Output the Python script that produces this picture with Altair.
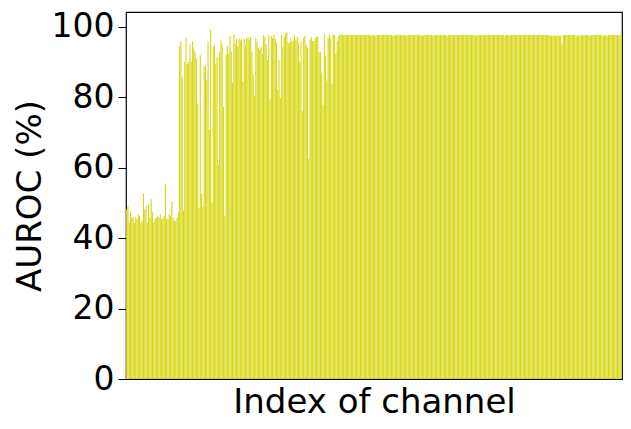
import altair as alt
import pandas as pd

# AUROC (%) per channel (384 channels)
low_segment = [
    48.1, 49.0, 44.5, 47.6, 45.9, 45.9, 44.3, 45.9, 45.3, 46.8,
    46.2, 44.3, 45.0, 52.7, 48.1, 49.0, 44.3, 49.5, 45.8, 51.0,
    47.4, 44.5, 45.5, 46.0, 46.2, 45.8, 46.8, 45.4, 45.4, 46.2,
    55.2, 45.6, 45.3, 46.8, 46.2, 50.4, 45.8, 44.8, 44.8, 45.7,
    47.4,
]
rise_segment_a = [
    94.7, 95.9, 85.6, 47.8, 90.1, 96.9, 89.4, 90.1, 95.0, 90.1,
    95.9, 93.8, 92.7, 91.0, 78.1, 48.4, 91.9, 52.5, 48.9, 88.7,
    89.1, 84.9, 95.9, 70.8, 99.2, 50.1, 94.3, 94.9, 89.6, 91.5,
    60.8, 92.8, 96.2, 95.0, 77.2, 46.2, 92.1, 94.5, 92.4, 97.4,
    93.0, 84.2, 97.9,
]
rise_segment_b = [
    95.2, 96.6, 94.3, 96.6, 96.2, 96.6, 84.4, 96.6, 94.9, 96.8,
    97.0, 96.4, 97.1, 92.8, 86.4, 80.3, 96.6, 95.7, 94.0, 93.4,
    94.3, 92.4, 97.7, 97.2, 95.1, 90.6, 97.7, 79.4, 97.4, 96.8,
    97.7, 96.6, 95.5, 82.2, 90.6, 79.8, 97.7, 94.3, 97.2,
]
rise_segment_c = [
    98.2, 98.5, 95.5, 95.5, 96.9, 95.9, 96.2, 97.5, 96.2, 97.1,
    95.5, 90.1, 96.0, 76.0, 96.9, 97.4, 94.9, 94.0, 62.6, 96.4,
    97.1, 96.0, 96.0, 96.8, 97.0, 97.2, 92.7, 93.0, 87.0, 77.8,
    97.9, 91.7, 84.7, 96.9, 97.9, 96.6, 83.7, 97.9, 97.7, 92.4,
    95.9, 97.4, 97.8, 97.8,
]
plateau_segment = [
    97.7, 97.7, 97.7, 97.7, 97.7, 97.7, 97.7, 97.7, 97.7, 97.7,
    97.7, 97.7, 97.7, 97.7, 97.7, 97.7, 97.7, 97.7, 97.7, 97.7,
    97.7, 97.7, 97.4, 97.7, 97.7, 97.4, 97.7, 97.7, 97.7, 97.7,
    97.5, 97.7, 97.7, 97.7, 97.7, 97.7, 97.7, 97.7, 97.7, 97.4,
    97.7, 97.7, 97.7, 97.7, 97.7, 97.7, 97.7, 97.7, 97.7, 97.4,
    97.7, 97.7, 97.7, 97.7, 97.7, 97.5, 97.7, 97.7, 97.7, 97.7,
    97.7, 97.7, 97.4, 97.7, 97.7, 97.7, 97.7, 97.7, 97.7, 97.7,
    97.5, 97.7, 97.7, 97.7, 97.7, 97.7, 97.7, 97.7, 97.7, 97.7,
    97.7, 97.4, 97.7, 97.7, 97.7, 97.7, 97.5, 97.7, 97.7, 97.7,
    97.7, 97.7, 97.7, 97.7, 97.7, 97.7, 97.7, 97.7, 97.7, 97.7,
    97.7, 97.7, 97.7, 97.4, 97.7, 97.7, 97.7, 97.7, 97.7, 97.7,
    97.5, 97.7, 97.7, 97.7, 97.7, 97.7, 97.7, 97.7, 97.7, 97.7,
    97.7, 97.7, 97.7, 97.7, 97.7, 97.7, 97.4, 97.7, 97.7, 97.7,
    97.5, 97.7, 97.7, 97.7, 97.7, 97.7, 97.7, 97.7, 97.7, 97.7,
    97.7, 97.7, 97.7, 97.7, 97.7, 97.7, 97.7, 97.7, 97.7, 97.7,
    97.7, 97.7, 97.7, 97.7, 97.7, 97.7, 97.7, 97.7, 97.7, 97.7,
    97.7, 97.4, 97.5, 97.4, 97.7, 97.4, 97.5, 97.7, 97.4, 97.5,
    95.0, 97.7, 97.7, 97.7, 97.7, 97.7, 97.7, 97.7, 97.7, 97.7,
    97.7, 97.4, 97.5, 97.7, 97.4, 97.7, 97.5, 97.7, 97.7, 97.7,
    97.7, 97.7, 97.4, 97.7, 97.7, 97.7, 97.7, 97.7, 97.7, 97.7,
    97.7, 97.7, 97.4, 97.5, 97.7, 97.4, 97.7, 97.7, 97.7, 97.7,
    97.7, 97.7, 97.7, 97.7, 97.7, 97.7, 97.7,
]

auroc = low_segment + rise_segment_a + rise_segment_b + rise_segment_c + plateau_segment
channels = list(range(len(auroc)))
y_ticks = [0, 20, 40, 60, 80, 100]

df = pd.DataFrame({"channel": channels, "auroc": auroc})

FONT = "DejaVu Sans"

chart = (
    alt.Chart(df)
    .mark_bar(color="#d9d716")
    .encode(
        x=alt.X(
            "channel:O",
            scale=alt.Scale(paddingInner=0.15, paddingOuter=0.1),
            axis=alt.Axis(
                labels=False, ticks=False, domain=False, grid=False,
                title="Index of channel", titleFontSize=34, titleFont=FONT,
                titleFontWeight="normal", titleColor="black", titlePadding=6,
            ),
        ),
        y=alt.Y(
            "auroc:Q",
            scale=alt.Scale(domain=[0, 104.2], nice=False, zero=True),
            axis=alt.Axis(
                values=y_ticks, format="d", grid=False, domain=False,
                labelFontSize=33, labelFont=FONT, labelColor="black",
                tickColor="black", tickSize=8, tickWidth=1, labelPadding=4,
                title="AUROC (%)", titleFontSize=34, titleFont=FONT,
                titleFontWeight="normal", titleColor="black", titlePadding=4,
            ),
        ),
    )
    .properties(
        width=496,
        height=367,
        autosize=alt.AutoSizeParams(type="none"),
        padding={"left": 118, "top": 4, "right": 1, "bottom": 42},
    )
    .configure_view(stroke="black", strokeWidth=1.2)
)

chart.save("out.html", embed_options={"renderer": "svg", "actions": False})
